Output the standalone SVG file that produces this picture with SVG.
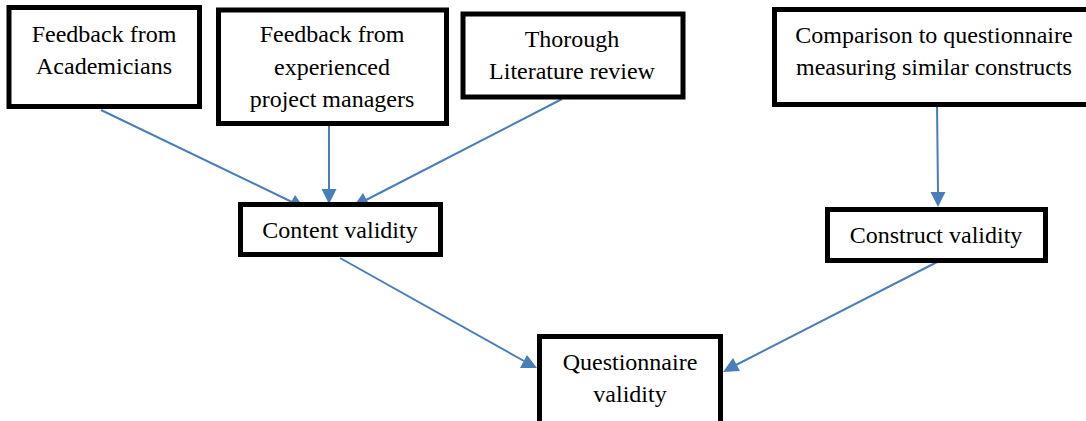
<svg xmlns="http://www.w3.org/2000/svg" width="1086" height="421" viewBox="0 0 1086 421">
<style>
.box{fill:#fff;stroke:#000;stroke-width:5}
.t{font-family:'Liberation Serif','Times New Roman',Times,serif;font-size:24px;fill:#000;text-anchor:middle}
.ln{stroke:#4a7ebb;stroke-width:2;fill:none}
.hd{fill:#4a7ebb}
</style>
<rect width="1086" height="421" fill="#fff"/>
<g id="connectors">
<line class="ln" x1="101" y1="110" x2="292" y2="202"/>
<path class="hd" d="M305,209 L288,208 L295,195 Z"/>
<line class="ln" x1="329" y1="126" x2="329" y2="189"/>
<path class="hd" d="M329,204 L321.5,189 L336.5,189 Z"/>
<line class="ln" x1="562" y1="99" x2="366" y2="200"/>
<path class="hd" d="M353,207 L363,193 L370,206 Z"/>
<line class="ln" x1="937" y1="105" x2="938" y2="192"/>
<path class="hd" d="M938,207 L930.5,192 L945.5,192 Z"/>
<line class="ln" x1="340" y1="258" x2="524" y2="361"/>
<path class="hd" d="M537,368 L520,368 L527,355 Z"/>
<line class="ln" x1="941" y1="260" x2="736" y2="365"/>
<path class="hd" d="M723,372 L733,358 L740,371 Z"/>
</g>
<g id="n1"><rect class="box" x="9" y="7.5" width="190.5" height="99"/><text class="t" x="104" y="42">Feedback from</text><text class="t" x="104" y="74">Academicians</text></g>
<g id="n2"><rect class="box" x="218.5" y="10" width="228" height="113.5"/><text class="t" x="332" y="42">Feedback from</text><text class="t" x="332" y="75">experienced</text><text class="t" x="332" y="107">project managers</text></g>
<g id="n3"><rect class="box" x="463" y="14" width="220" height="83"/><text class="t" x="572" y="47">Thorough</text><text class="t" x="572" y="79">Literature review</text></g>
<g id="n4"><rect class="box" x="774.5" y="9.5" width="320" height="95"/><text class="t" x="934" y="43">Comparison to questionnaire</text><text class="t" x="934" y="75">measuring similar constructs</text></g>
<g id="n5"><rect class="box" x="240.5" y="204.5" width="200" height="50"/><text class="t" x="340" y="238">Content validity</text></g>
<g id="n6"><rect class="box" x="827.5" y="209.5" width="218" height="51"/><text class="t" x="936" y="243">Construct validity</text></g>
<g id="n7"><rect class="box" x="539.5" y="336.5" width="181" height="90"/><text class="t" x="630" y="370">Questionnaire</text><text class="t" x="630" y="402">validity</text></g>
</svg>
